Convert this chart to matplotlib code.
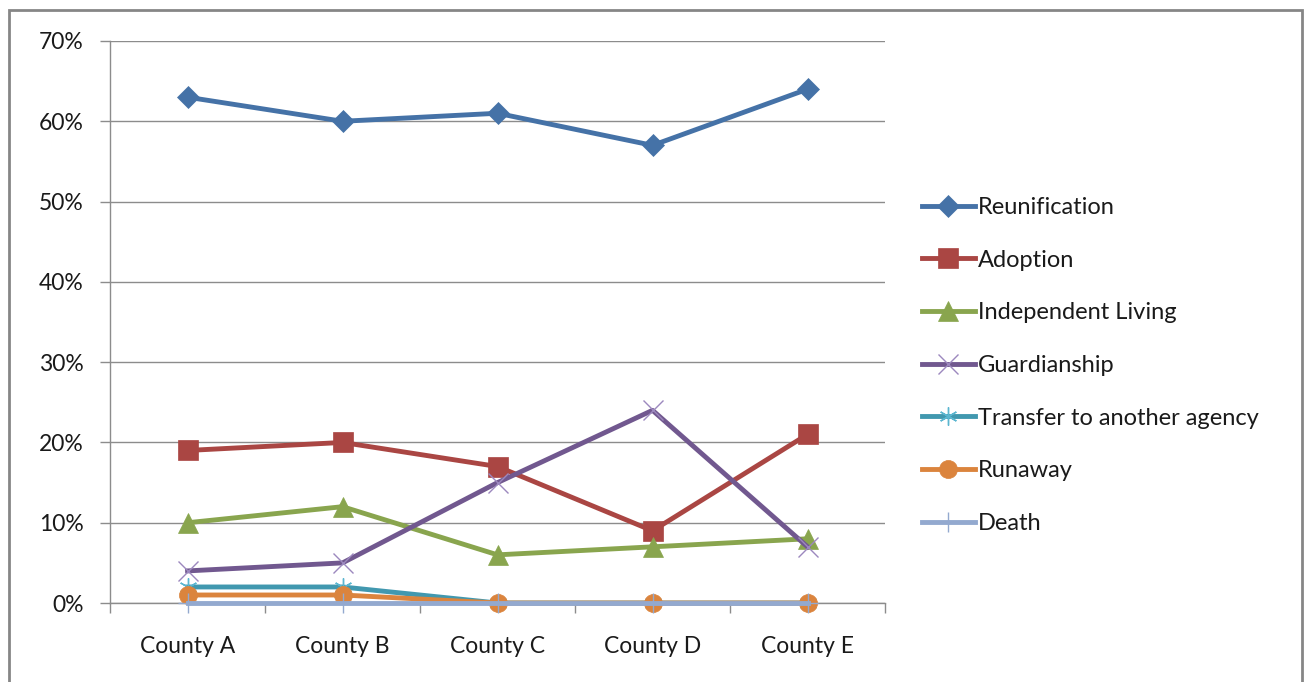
import matplotlib
matplotlib.use("Agg")
import matplotlib.pyplot as plt
from matplotlib.patches import Rectangle
from matplotlib.ticker import FuncFormatter, FixedLocator

plt.rcParams["font.family"] = ["Lato", "DejaVu Sans"]

COUNTIES = ["County A", "County B", "County C", "County D", "County E"]

# share of exits by outcome, percent
REUNIFICATION = [63, 60, 61, 57, 64]
ADOPTION = [19, 20, 17, 9, 21]
INDEPENDENT = [10, 12, 6, 7, 8]
GUARDIANSHIP = [4, 5, 15, 24, 7]
TRANSFER = [2, 2, 0, 0, 0]
RUNAWAY = [1, 1, 0, 0, 0]
DEATH = [0, 0, 0, 0, 0]

SERIES = [
    ("Reunification", REUNIFICATION, "#4572A7", "D", 11.5, "#4572A7"),
    ("Adoption", ADOPTION, "#AA4643", "s", 14, "#AA4643"),
    ("Independent Living", INDEPENDENT, "#89A54E", "^", 14, "#89A54E"),
    ("Guardianship", GUARDIANSHIP, "#71588F", "x", 14, "#9C88BE"),
    ("Transfer to another agency", TRANSFER, "#4198AF", (6, 2, 0), 13, "#5BB6D0"),
    ("Runaway", RUNAWAY, "#DB843D", "o", 13, "#DB843D"),
    ("Death", DEATH, "#93A9CF", "+", 14, "#93A9CF"),
]

fig = plt.figure(figsize=(13.04, 6.82), dpi=100)
ax = fig.add_axes([0.0844, 0.1158, 0.5943, 0.8241])

x = list(range(len(COUNTIES)))
for z, (name, vals, color, marker, ms, mcolor) in enumerate(SERIES):
    thin = marker in ("x", "+") or isinstance(marker, tuple)
    ax.plot(x, vals, color=color, lw=3.5, marker=marker, markersize=ms,
            markerfacecolor=mcolor, markeredgecolor=mcolor,
            markeredgewidth=1.0 if thin else 0.5,
            label=name, clip_on=False, zorder=3 + z)

ax.set_xlim(-0.5, len(COUNTIES) - 0.5)
ax.set_ylim(0, 70)
ax.set_yticks(range(0, 71, 10))
ax.yaxis.set_major_formatter(FuncFormatter(lambda v, _: f"{v:.0f}%"))
ax.grid(axis="y", color="#8c8c8c", lw=1.0, zorder=0)
ax.set_axisbelow(True)

ax.set_xticks(x)
ax.set_xticklabels(COUNTIES)
ax.xaxis.set_minor_locator(FixedLocator([i - 0.5 for i in range(len(COUNTIES) + 1)]))
ax.tick_params(axis="x", which="major", length=0, pad=24, labelsize=16.5, colors="#1a1a1a")
ax.tick_params(axis="x", which="minor", length=7, width=1, color="#8c8c8c")
ax.tick_params(axis="y", length=7, width=1, color="#8c8c8c", pad=12,
               labelsize=16.5, labelcolor="#1a1a1a")

for side in ("top", "right"):
    ax.spines[side].set_visible(False)
for side in ("left", "bottom"):
    ax.spines[side].set_color("#8c8c8c")
    ax.spines[side].set_linewidth(1.0)

leg = ax.legend(loc="center left", bbox_to_anchor=(1.035, 0.4226), frameon=False,
                fontsize=17, handlelength=2.25, handletextpad=0.15,
                labelspacing=1.34, borderaxespad=0)
for t in leg.get_texts():
    t.set_color("#1a1a1a")

# outer chart border
fig.patches.append(Rectangle((9 / 1304, -0.05), (1302 - 9) / 1304, 1.05 - 10 / 682,
                             transform=fig.transFigure, fill=False,
                             edgecolor="#868686", lw=2.0))

fig.savefig("out.png", dpi=100)
